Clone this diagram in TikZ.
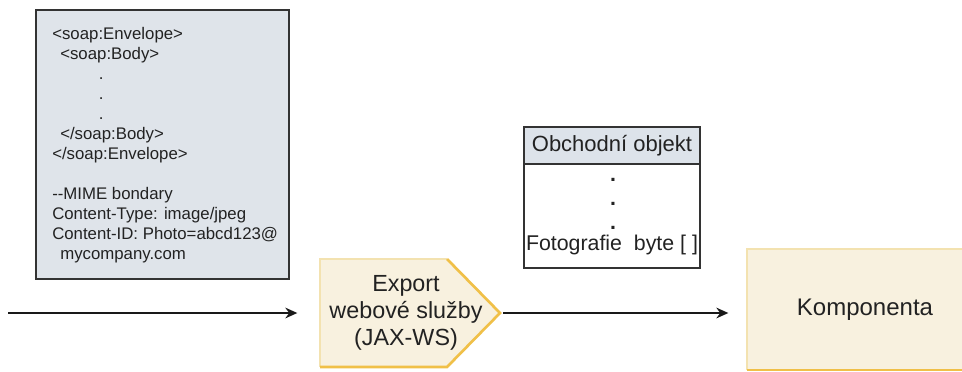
\documentclass[tikz,border=0pt]{standalone}
\usepackage{fontspec}
\setmainfont{Liberation Sans}
\usetikzlibrary{arrows.meta}
\definecolor{soapfill}{HTML}{DFE4EA}
\definecolor{hdrfill}{HTML}{DDE3EA}
\definecolor{compfill}{HTML}{F8F1DF}
\definecolor{lightedge}{HTML}{F3E2B0}
\definecolor{goldedge}{HTML}{F0C048}
\definecolor{txt}{HTML}{222222}
\tikzset{
  conn/.style={line width=1.5pt, -{Stealth[length=9pt,width=8pt]}, color=black!90},
  lbl/.style={inner sep=0pt, text=txt},
}
\begin{document}
\begin{tikzpicture}[x=0.75pt,y=-0.75pt]
\useasboundingbox (0,0) rectangle (962,371);
% SOAP message box
\draw[fill=soapfill, draw=black!80, line width=0.8pt] (36,10) rectangle (289,279);
\node[lbl, anchor=north west, align=left, font=\fontsize{12.6}{15}\selectfont] (soap) at (52,27) {%
<soap:Envelope>\\
\hspace*{6pt}<soap:Body>\\
\hspace*{35pt}.\\
\hspace*{35pt}.\\
\hspace*{35pt}.\\
\hspace*{6pt}</soap:Body>\\
</soap:Envelope>\\[15pt]
-{}-MIME bondary\\
Content-Type: image/jpeg\\
Content-ID: Photo=abcd123@\\
\hspace*{6pt}mycompany.com};
% Export pentagon
\fill[compfill] (320,259) -- (447,259) -- (500,313) -- (447,367) -- (320,367) -- cycle;
\draw[lightedge, line width=2pt] (320,367) -- (320,259) -- (447,259);
\draw[goldedge, line width=2pt] (447,259) -- (500,313) -- (447,367) -- (320,367);
\node[lbl, align=center, font=\fontsize{17.5}{20.25}\selectfont] (exp) at (406,313) {Export\\webové služby\\(JAX-WS)};
\coordinate (expin) at (320,313);
\coordinate (expout) at (503,313);
\coordinate (start) at (8,313);
% Business object
\draw[fill=hdrfill, draw=black!80, line width=0.8pt] (524,127) rectangle (700,164);
\draw[fill=white, draw=black!80, line width=0.8pt] (524,164) rectangle (700,268);
\node[lbl, font=\fontsize{16.5}{18}\selectfont] (bo) at (612,146) {Obchodní objekt};
\node[lbl, align=center, font=\fontsize{16}{18}\selectfont\bfseries] (dots) at (613,204) {.\\.\\.};
\node[lbl, font=\fontsize{16}{18}\selectfont, anchor=base] (foto) at (612,250) {Fotografie\ \ byte [ ]};
% Component
\fill[compfill] (747,249) rectangle (962,370);
\draw[lightedge, line width=2pt] (747,370) -- (747,249) -- (962,249);
\draw[goldedge, line width=2pt] (747,370) -- (962,370);
\node[lbl, font=\fontsize{18}{20}\selectfont] (comp) at (865,310) {Komponenta};
\coordinate (compin) at (747,313);
% connectors
\draw[conn] (start) -- ([xshift=-17pt]expin);
\draw[conn] (expout) -- ([xshift=-14pt]compin);
\end{tikzpicture}
\end{document}
